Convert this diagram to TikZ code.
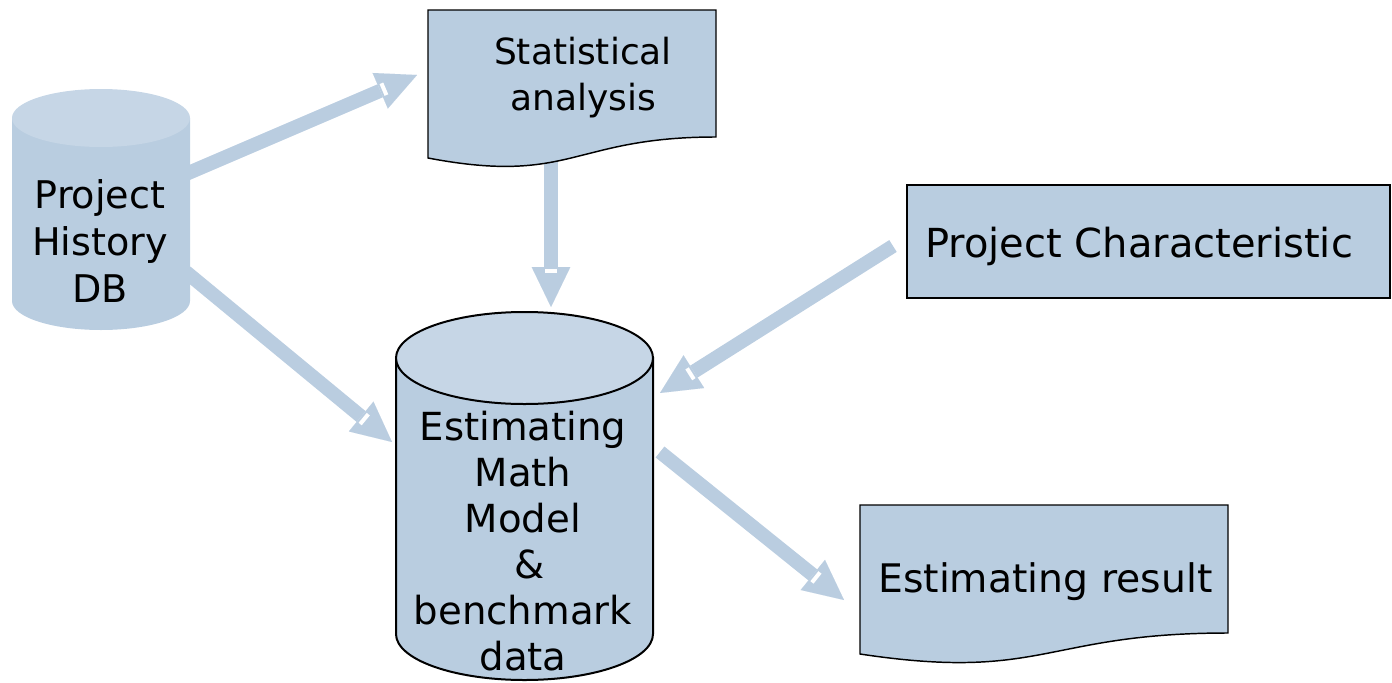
\documentclass[tikz,border=0pt]{standalone}
\usepackage{fontspec}
\setmainfont{DejaVu Sans}
\usetikzlibrary{arrows.meta,decorations.markings}

\definecolor{bodyc}{HTML}{B9CDE0}
\definecolor{topc}{HTML}{C6D6E6}
\definecolor{arrowc}{HTML}{BACDE0}

\tikzset{
  flow/.style={draw=arrowc, line width=10.5pt,
    -{Triangle[length=30pt,width=29pt,line width=0.01pt]},
    postaction={decorate},
    decoration={markings,
      mark=at position -27pt with {\fill[white] (-1.5pt,-4.8pt) rectangle (1.5pt,4.8pt);}}},
  docshape/.style={fill=bodyc, draw=black, line width=1.1pt},
  label/.style={inner sep=0pt, align=center, text=black},
}

\begin{document}
\begin{tikzpicture}[x=0.75pt, y=-0.75pt]
\useasboundingbox (0,0) rectangle (1392,682);

% connector end points
\coordinate (dbA) at (186,174);
\coordinate (statIn) at (417,75);
\coordinate (dbB) at (186,272);
\coordinate (modelInL) at (392,442);
\coordinate (statOut) at (551,150);
\coordinate (modelInT) at (551,307);
\coordinate (charOut) at (893,246);
\coordinate (modelInR) at (660,393);
\coordinate (modelOut) at (660,452);
\coordinate (resIn) at (844,600);

% arrows (drawn first, shapes cover their tails)
\draw[flow] (dbA) -- (statIn);
\draw[flow] (dbB) -- (modelInL);
\draw[flow] (statOut) -- (modelInT);
\draw[flow] (charOut) -- (modelInR);
\draw[flow] (modelOut) -- (resIn);

% Project History DB cylinder (no outline)
\fill[bodyc] (12,118) -- (12,301)
  arc[start angle=180, end angle=0, x radius=89, y radius=29] -- (190,118) -- cycle;
\fill[topc] (101,118) ellipse[x radius=89, y radius=29];
\node[label, anchor=base, font=\fontsize{28.6pt}{35pt}\selectfont] (db) at (100,302) {Project\\History\\DB};

% Statistical analysis document
\draw[docshape] (428,10) -- (716,10) -- (716,137)
  .. controls (572,137) and (572,185.4) .. (428,158) -- cycle;
\node[label, anchor=base, font=\fontsize{27pt}{34pt}\selectfont] (stat) at (583,110) {Statistical\\analysis};

% Estimating model cylinder
\filldraw[fill=bodyc, draw=black, line width=1.5pt] (396,358) -- (396,634)
  arc[start angle=180, end angle=0, x radius=128.5, y radius=46] -- (653,358) -- cycle;
\filldraw[fill=topc, draw=black, line width=1.5pt] (524.5,358) ellipse[x radius=128.5, y radius=46];
\node[label, anchor=base, font=\fontsize{29pt}{34.4pt}\selectfont] (model) at (523,670)
  {Estimating\\Math\\Model\\\ \&\\benchmark\\data};

% Project Characteristic box
\draw[docshape] (907,185) rectangle (1390,298);
\node[label, anchor=base west, font=\fontsize{30pt}{35pt}\selectfont] (char) at (925,257) {Project Characteristic};

% Estimating result document
\draw[docshape] (860,505) -- (1228,505) -- (1228,633)
  .. controls (1044,633) and (1044,681.8) .. (860,654) -- cycle;
\node[label, anchor=base west, font=\fontsize{29.5pt}{35pt}\selectfont] (res) at (878,592) {Estimating result};

\end{tikzpicture}
\end{document}
